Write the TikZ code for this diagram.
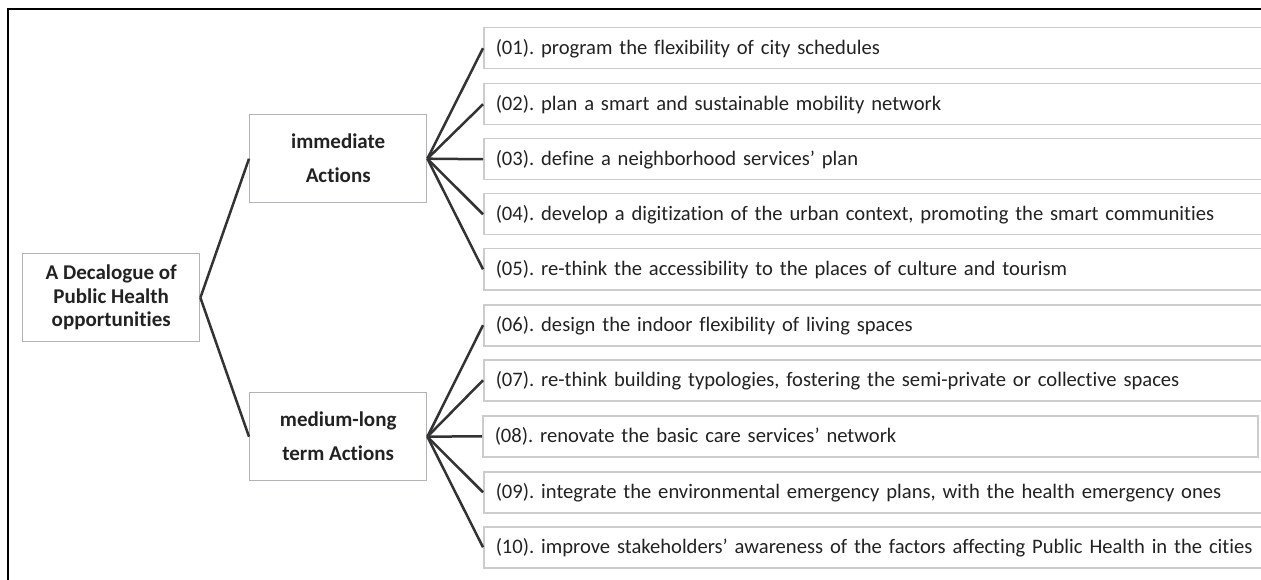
\documentclass[tikz,border=0pt]{standalone}
\usepackage{fontspec}
\setmainfont{Carlito}[Ligatures=NoCommon]
\frenchspacing
\definecolor{leafgray}{HTML}{CCCCCC}
\definecolor{boxgray}{HTML}{B2B2BA}
\definecolor{linkgray}{HTML}{333333}
\definecolor{txt}{HTML}{222222}
\begin{document}
\begin{tikzpicture}[x=1pt,y=-1pt,
  mainbox/.style={draw=boxgray,line width=1.4pt,rectangle,anchor=north west,inner sep=0pt,
    minimum width=177pt,minimum height=88pt,align=center,text=txt,font=\fontsize{21}{23.5}\selectfont\bfseries},
  leafbox/.style={draw=leafgray,line width=1.5pt,rectangle,anchor=north west,inner xsep=12pt,inner ysep=0pt,
    text width=760pt,minimum height=41pt,align=left,text=txt,font=\fontsize{20.6}{22}\selectfont},
  link/.style={draw=linkgray,line width=2.5pt}]
\useasboundingbox (0,0) rectangle (1261,580);
\draw[black,line width=1.3pt] (8,580) -- (8,9) -- (1262,9);
\node[mainbox] (root) at (22,253) {A Decalogue of\\Public Health\\opportunities};
\node[mainbox,font=\fontsize{21}{34}\selectfont\bfseries] (imm) at (249,114) {immediate\\Actions};
\node[mainbox,font=\fontsize{21}{34}\selectfont\bfseries] (med) at (249,392) {medium-long\\term Actions};
\node[leafbox] (l1) at (483,27) {(01). program the flexibility of city schedules};
\node[leafbox] (l2) at (483,83) {(02). plan a smart and sustainable mobility network};
\node[leafbox] (l3) at (483,138) {(03). define a neighborhood services’ plan};
\node[leafbox] (l4) at (483,193) {(04). develop a digitization of the urban context, promoting the smart communities};
\node[leafbox] (l5) at (483,248) {(05). re-think the accessibility to the places of culture and tourism};
\node[leafbox] (l6) at (483,304) {(06). design the indoor flexibility of living spaces};
\node[leafbox] (l7) at (483,359) {(07). re-think building typologies, fostering the semi-private or collective spaces};
\node[leafbox,text width=751pt] (l8) at (482,415) {(08). renovate the basic care services’ network};
\node[leafbox] (l9) at (483,471) {(09). integrate the environmental emergency plans, with the health emergency ones};
\node[leafbox] (l10) at (483,526) {(10). improve stakeholders’ awareness of the factors affecting Public Health in the cities};
\draw[link] (root.east) -- (imm.west);
\draw[link] (root.east) -- (med.west);
\foreach \i in {1,...,5} {\draw[link] (imm.east) -- (l\i.west);}
\foreach \i in {6,...,10} {\draw[link] (med.east) -- (l\i.west);}
\end{tikzpicture}
\end{document}
